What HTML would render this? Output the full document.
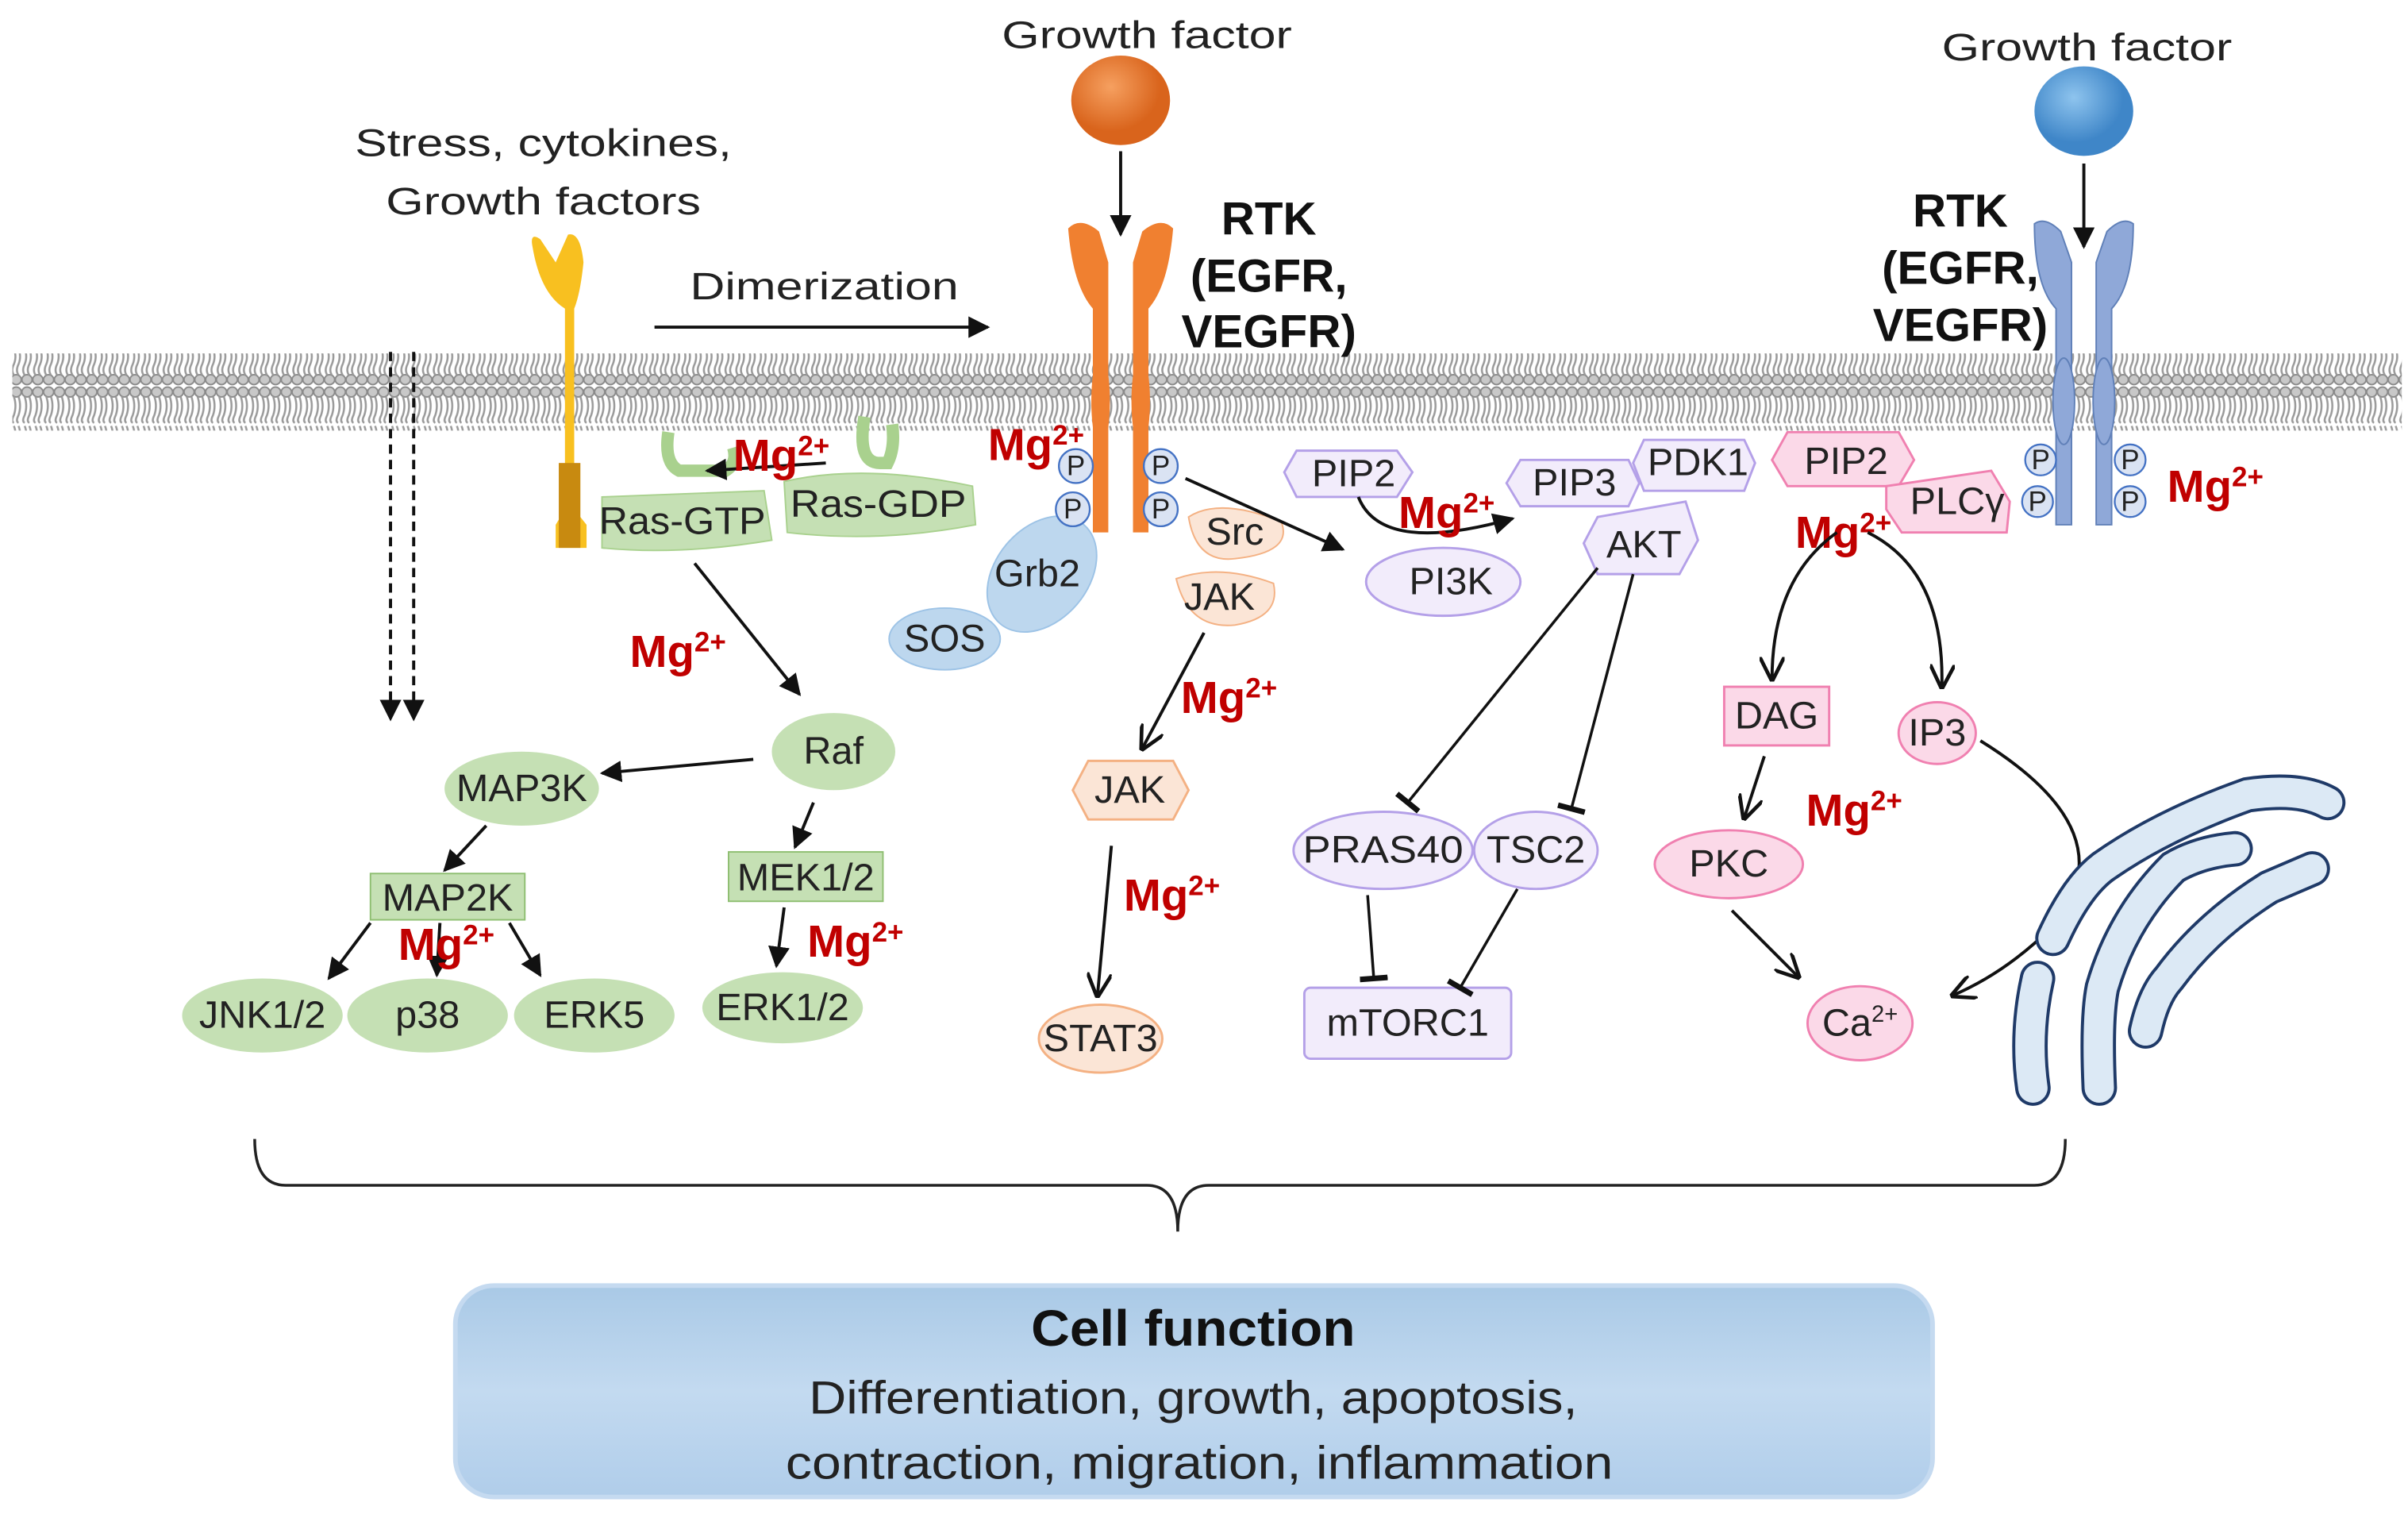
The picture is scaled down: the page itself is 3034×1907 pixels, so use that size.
<!DOCTYPE html>
<html><head><meta charset="utf-8"><style>
html,body{margin:0;padding:0;background:#fff;}
svg{display:block;}
text{font-family:"Liberation Sans",sans-serif;}
.m{fill:#c00000;font-weight:bold;font-size:29px;}
.l{font-size:25px;fill:#222;text-anchor:middle;}
</style></head><body>
<svg width="3034" height="1907" viewBox="0 0 1560 981" preserveAspectRatio="none" xmlns="http://www.w3.org/2000/svg">
<defs>
<marker id="a" viewBox="0 0 10 10" refX="9" refY="5" markerWidth="7" markerHeight="7" orient="auto"><path d="M0,0 L10,5 L0,10 z" fill="#111"/></marker>
<marker id="o" viewBox="0 0 10 10" refX="9" refY="5" markerWidth="8" markerHeight="8" orient="auto"><path d="M0,0 L10,5 L0,10" fill="none" stroke="#111" stroke-width="1.5"/></marker>
<marker id="t" viewBox="0 0 10 10" refX="5" refY="5" markerWidth="10" markerHeight="10" orient="auto"><path d="M5,0 L5,10" stroke="#111" stroke-width="2"/></marker>
<pattern id="lip" width="7" height="50" patternUnits="userSpaceOnUse">
<rect width="7" height="50" fill="#fff"/>
<ellipse cx="3.5" cy="4" rx="3.3" ry="3.2" fill="#c8c8c8" stroke="#8a8a8a" stroke-width="1"/>
<ellipse cx="3.5" cy="46" rx="3.3" ry="3.2" fill="#c8c8c8" stroke="#8a8a8a" stroke-width="1"/>
<path d="M2,7 Q4,13 2,19 Q0,23 2,24 M5,7 Q7,13 5,19 Q3,23 5,24 M2,26 Q4,31 2,36 Q0,40 2,43 M5,26 Q7,31 5,36 Q3,40 5,43" stroke="#9a9a9a" stroke-width="1.3" fill="none"/>
</pattern>
<linearGradient id="bx" x1="0" y1="0" x2="0" y2="1"><stop offset="0" stop-color="#a9c9e6"/><stop offset="0.5" stop-color="#c3daf0"/><stop offset="1" stop-color="#b0cdea"/></linearGradient>
<radialGradient id="og" cx="0.4" cy="0.35"><stop offset="0" stop-color="#f6a060"/><stop offset="1" stop-color="#d9641c"/></radialGradient>
<radialGradient id="bg" cx="0.4" cy="0.35"><stop offset="0" stop-color="#8ec4ee"/><stop offset="1" stop-color="#3f86c8"/></radialGradient>
</defs>
<rect width="1560" height="981" fill="#fff"/>
<!-- membrane -->
<rect x="8" y="229" width="1548" height="50" fill="url(#lip)"/>

<!-- top texts -->
<text x="743" y="31" class="l" font-size="29" textLength="188" lengthAdjust="spacingAndGlyphs">Growth factor</text>
<ellipse cx="726" cy="65" rx="32" ry="29" fill="url(#og)"/>
<text x="1352" y="39" class="l" font-size="29" textLength="188" lengthAdjust="spacingAndGlyphs">Growth factor</text>
<ellipse cx="1350" cy="72" rx="32" ry="29" fill="url(#bg)"/>
<line x1="726" y1="98" x2="726" y2="152" stroke="#111" stroke-width="2" marker-end="url(#a)"/>
<line x1="1350" y1="106" x2="1350" y2="160" stroke="#111" stroke-width="2" marker-end="url(#a)"/>
<text x="352" y="101" class="l" font-size="30" textLength="244" lengthAdjust="spacingAndGlyphs">Stress, cytokines,</text>
<text x="352" y="139" class="l" font-size="30" textLength="204" lengthAdjust="spacingAndGlyphs">Growth factors</text>
<text x="534" y="194" class="l" font-size="30" textLength="174" lengthAdjust="spacingAndGlyphs">Dimerization</text>
<line x1="424" y1="212" x2="640" y2="212" stroke="#111" stroke-width="2" marker-end="url(#a)"/>
<g font-weight="bold" font-size="30" text-anchor="middle" fill="#111">
<text x="822" y="152">RTK</text><text x="822" y="189">(EGFR,</text><text x="822" y="225">VEGFR)</text>
<text x="1270" y="147">RTK</text><text x="1270" y="184">(EGFR,</text><text x="1270" y="221">VEGFR)</text>
</g>

<!-- yellow receptor -->
<path d="M345,160 Q343,150 350,155 L360,170 L368,152 Q376,150 378,170 Q376,190 372,200 L372,330 L380,340 L380,355 L360,355 L360,340 L366,330 L366,200 Q350,190 345,160z" fill="#f8c020"/>
<rect x="362" y="300" width="14" height="55" fill="#c88a10"/>
<!-- dashed arrows -->
<line x1="253" y1="228" x2="253" y2="466" stroke="#111" stroke-width="2" stroke-dasharray="6,4" marker-end="url(#a)"/>
<line x1="268" y1="228" x2="268" y2="466" stroke="#111" stroke-width="2" stroke-dasharray="6,4" marker-end="url(#a)"/>

<!-- orange receptor -->
<g fill="#f08030">
<path d="M692,148 Q700,140 712,150 L718,170 L718,345 L708,345 L708,200 Q695,185 692,148z"/>
<path d="M760,148 Q752,140 740,150 L734,170 L734,345 L744,345 L744,200 Q757,185 760,148z"/>
<ellipse cx="713" cy="260" rx="6" ry="30"/><ellipse cx="739" cy="260" rx="6" ry="30"/>
</g>
<!-- blue receptor -->
<g fill="#8fa8d8" stroke="#6080b8" stroke-width="1">
<path d="M1318,145 Q1325,140 1335,150 L1342,170 L1342,340 L1332,340 L1332,200 Q1318,185 1318,145z"/>
<path d="M1382,145 Q1375,140 1365,150 L1358,170 L1358,340 L1368,340 L1368,200 Q1382,185 1382,145z"/>
<ellipse cx="1337" cy="260" rx="7" ry="28"/><ellipse cx="1363" cy="260" rx="7" ry="28"/>
</g>

<!-- Ras -->
<path d="M433,280 Q430,300 440,305 L470,305 Q478,300 475,290 M560,270 Q555,300 570,300 L575,300 Q580,290 578,275" fill="none" stroke="#a9d18e" stroke-width="8"/>
<path d="M390,322 L495,318 L500,350 Q440,360 390,355z" fill="#c5e0b4" stroke="#a9d18e"/>
<text x="442" y="346" class="l" textLength="108" lengthAdjust="spacingAndGlyphs">Ras-GTP</text>
<path d="M508,312 Q560,300 630,315 L632,340 Q570,352 510,345z" fill="#c5e0b4" stroke="#a9d18e"/>
<text x="569" y="335" class="l" textLength="114" lengthAdjust="spacingAndGlyphs">Ras-GDP</text>
<line x1="535" y1="300" x2="458" y2="305" stroke="#111" stroke-width="2" marker-end="url(#a)"/>
<text x="475" y="305" class="m">Mg<tspan font-size="18" dy="-10">2+</tspan></text>
<line x1="450" y1="365" x2="518" y2="450" stroke="#111" stroke-width="2" marker-end="url(#a)"/>
<text x="408" y="432" class="m">Mg<tspan font-size="18" dy="-10">2+</tspan></text>

<g fill="#c5e0b4">
<ellipse cx="540" cy="487" rx="40" ry="25"/>
<ellipse cx="338" cy="511" rx="50" ry="24"/>
<ellipse cx="170" cy="658" rx="52" ry="24"/>
<ellipse cx="277" cy="658" rx="52" ry="24"/>
<ellipse cx="385" cy="658" rx="52" ry="24"/>
<ellipse cx="507" cy="653" rx="52" ry="23"/>
<rect x="240" y="566" width="100" height="30" stroke="#8fbf72"/>
<rect x="472" y="552" width="100" height="32" stroke="#8fbf72"/>
</g>
<text x="540" y="495" class="l">Raf</text>
<text x="338" y="519" class="l">MAP3K</text>
<text x="290" y="590" class="l">MAP2K</text>
<text x="522" y="577" class="l">MEK1/2</text>
<text x="170" y="666" class="l">JNK1/2</text>
<text x="277" y="666" class="l">p38</text>
<text x="385" y="666" class="l">ERK5</text>
<text x="507" y="661" class="l">ERK1/2</text>
<g stroke="#111" stroke-width="2" marker-end="url(#a)">
<line x1="488" y1="492" x2="390" y2="501"/>
<line x1="315" y1="535" x2="288" y2="564"/>
<line x1="527" y1="520" x2="515" y2="549"/>
<line x1="240" y1="598" x2="213" y2="634"/>
<line x1="285" y1="598" x2="283" y2="632"/>
<line x1="330" y1="598" x2="350" y2="632"/>
<line x1="508" y1="588" x2="503" y2="626"/>
</g>
<text x="258" y="622" class="m">Mg<tspan font-size="18" dy="-10">2+</tspan></text>
<text x="523" y="620" class="m">Mg<tspan font-size="18" dy="-10">2+</tspan></text>

<!-- Grb2 SOS -->
<ellipse cx="675" cy="372" rx="30" ry="42" transform="rotate(40 675 372)" fill="#bdd7ee" stroke="#9dc3e6"/>
<text x="672" y="380" class="l">Grb2</text>
<ellipse cx="612" cy="414" rx="36" ry="20" fill="#bdd7ee" stroke="#9dc3e6"/>
<text x="612" y="422" class="l">SOS</text>
<g fill="#dae3f3" stroke="#4472c4" stroke-width="1.2">
<circle cx="697" cy="302" r="11"/><circle cx="752" cy="302" r="11"/><circle cx="695" cy="330" r="11"/><circle cx="752" cy="330" r="11"/>
<circle cx="1322" cy="298" r="10"/><circle cx="1380" cy="298" r="10"/><circle cx="1320" cy="325" r="10"/><circle cx="1380" cy="325" r="10"/>
</g>
<g font-size="18" text-anchor="middle" fill="#222">
<text x="697" y="308">P</text><text x="752" y="308">P</text><text x="695" y="336">P</text><text x="752" y="336">P</text>
<text x="1322" y="304">P</text><text x="1380" y="304">P</text><text x="1320" y="331">P</text><text x="1380" y="331">P</text>
</g>
<text x="640" y="298" class="m">Mg<tspan font-size="18" dy="-10">2+</tspan></text>

<!-- Src JAK STAT -->
<path d="M770,335 Q790,322 830,338 Q838,358 800,362 Q775,365 770,335z" fill="#fbe5d6" stroke="#f4b183"/>
<text x="800" y="353" class="l">Src</text>
<path d="M762,375 Q790,365 825,378 Q830,400 800,405 Q770,408 762,375z" fill="#fbe5d6" stroke="#f4b183"/>
<text x="790" y="395" class="l">JAK</text>
<polygon points="705,493 760,493 770,512 760,531 705,531 695,512" fill="#fbe5d6" stroke="#f4b183" stroke-width="1.5"/>
<text x="732" y="520" class="l">JAK</text>
<ellipse cx="713" cy="673" rx="40" ry="22" fill="#fbe5d6" stroke="#f4b183" stroke-width="1.5"/>
<text x="713" y="681" class="l">STAT3</text>
<g stroke="#111" stroke-width="2">
<line x1="768" y1="310" x2="870" y2="356" marker-end="url(#a)"/>
<line x1="780" y1="410" x2="740" y2="485" marker-end="url(#o)"/>
<line x1="720" y1="548" x2="711" y2="645" marker-end="url(#o)"/>
</g>
<text x="765" y="462" class="m">Mg<tspan font-size="18" dy="-10">2+</tspan></text>
<text x="728" y="590" class="m">Mg<tspan font-size="18" dy="-10">2+</tspan></text>

<!-- PI3K/AKT -->
<g fill="#f2ecfb" stroke="#b4a0e8" stroke-width="1.5">
<polygon points="840,292 905,292 915,306 905,322 840,322 832,306"/>
<ellipse cx="935" cy="377" rx="50" ry="22"/>
<polygon points="985,298 1055,298 1062,313 1055,328 985,328 976,313"/>
<path d="M1065,285 L1130,285 L1137,300 L1130,318 L1065,318 L1058,300z"/>
<path d="M1035,335 L1092,325 L1100,350 L1088,372 L1035,372 L1026,352z"/>
<ellipse cx="896" cy="551" rx="58" ry="25"/>
<ellipse cx="995" cy="551" rx="40" ry="25"/>
<rect x="845" y="640" width="134" height="46" rx="4"/>
</g>
<text x="877" y="315" class="l">PIP2</text>
<text x="940" y="385" class="l">PI3K</text>
<text x="1020" y="321" class="l">PIP3</text>
<text x="1100" y="308" class="l">PDK1</text>
<text x="1065" y="361" class="l">AKT</text>
<text x="896" y="559" class="l" textLength="104" lengthAdjust="spacingAndGlyphs">PRAS40</text>
<text x="995" y="559" class="l">TSC2</text>
<text x="912" y="671" class="l">mTORC1</text>
<path d="M880,322 Q895,360 980,336" fill="none" stroke="#111" stroke-width="2" marker-end="url(#a)"/>
<text x="906" y="342" class="m">Mg<tspan font-size="18" dy="-10">2+</tspan></text>
<g stroke="#111" stroke-width="1.8" marker-end="url(#t)">
<line x1="1035" y1="368" x2="912" y2="520"/>
<line x1="1058" y1="372" x2="1018" y2="524"/>
<line x1="886" y1="580" x2="890" y2="634"/>
<line x1="983" y1="576" x2="946" y2="640"/>
</g>

<!-- PLC -->
<g fill="#fbd9e8" stroke="#f080b0" stroke-width="1.5">
<polygon points="1158,280 1230,280 1240,298 1230,315 1158,315 1148,298"/>
<path d="M1222,315 L1290,305 L1302,325 L1300,345 L1232,345 L1222,330z"/>
<rect x="1117" y="445" width="68" height="38"/>
<ellipse cx="1255" cy="475" rx="25" ry="20"/>
<ellipse cx="1120" cy="560" rx="48" ry="22"/>
<ellipse cx="1205" cy="663" rx="34" ry="24"/>
</g>
<text x="1196" y="307" class="l">PIP2</text>
<text x="1268" y="333" class="l">PLCγ</text>
<text x="1151" y="472" class="l">DAG</text>
<text x="1255" y="483" class="l">IP3</text>
<text x="1120" y="568" class="l">PKC</text>
<text x="1205" y="671" class="l">Ca<tspan font-size="15" dy="-9">2+</tspan></text>
<text x="1163" y="355" class="m">Mg<tspan font-size="18" dy="-10">2+</tspan></text>
<text x="1404" y="325" class="m">Mg<tspan font-size="18" dy="-10">2+</tspan></text>
<text x="1170" y="535" class="m">Mg<tspan font-size="18" dy="-10">2+</tspan></text>
<g stroke="#111" stroke-width="2" fill="none" marker-end="url(#o)">
<path d="M1190,345 Q1148,375 1148,440"/>
<path d="M1210,345 Q1260,370 1258,445"/>
<line x1="1143" y1="490" x2="1130" y2="530"/>
<line x1="1122" y1="590" x2="1165" y2="633"/>
<path d="M1283,480 Q1380,540 1330,600 Q1300,630 1265,645"/>
</g>

<!-- ER -->
<g fill="none" stroke-linecap="round">
<g stroke="#1f3a68" stroke-width="23">
<path d="M1330,608 Q1345,575 1362,562 Q1400,535 1456,515 Q1490,510 1508,520"/>
<path d="M1360,705 Q1358,660 1362,640 Q1375,595 1408,562 Q1425,552 1448,550"/>
<path d="M1390,668 Q1395,645 1405,634 Q1430,600 1470,575 L1498,563"/>
<path d="M1317,705 Q1312,670 1320,634"/>
</g>
<g stroke="#dce9f5" stroke-width="19">
<path d="M1330,608 Q1345,575 1362,562 Q1400,535 1456,515 Q1490,510 1508,520"/>
<path d="M1360,705 Q1358,660 1362,640 Q1375,595 1408,562 Q1425,552 1448,550"/>
<path d="M1390,668 Q1395,645 1405,634 Q1430,600 1470,575 L1498,563"/>
<path d="M1317,705 Q1312,670 1320,634"/>
</g>
</g>

<!-- brace -->
<path d="M165,738 Q165,768 185,768 L743,768 Q763,768 763,798 Q763,768 783,768 L1318,768 Q1338,768 1338,738" fill="none" stroke="#222" stroke-width="1.8"/>

<!-- Cell function box -->
<rect x="295" y="833" width="957" height="137" rx="25" fill="url(#bx)" stroke="#c5daf0" stroke-width="3"/>
<text x="773" y="872" text-anchor="middle" font-size="33" font-weight="bold" fill="#111" textLength="210" lengthAdjust="spacingAndGlyphs">Cell function</text>
<text x="773" y="916" text-anchor="middle" font-size="30" fill="#222" textLength="498" lengthAdjust="spacingAndGlyphs">Differentiation, growth, apoptosis,</text>
<text x="777" y="958" text-anchor="middle" font-size="30" fill="#222" textLength="536" lengthAdjust="spacingAndGlyphs">contraction, migration, inflammation</text>
</svg>
</body></html>
